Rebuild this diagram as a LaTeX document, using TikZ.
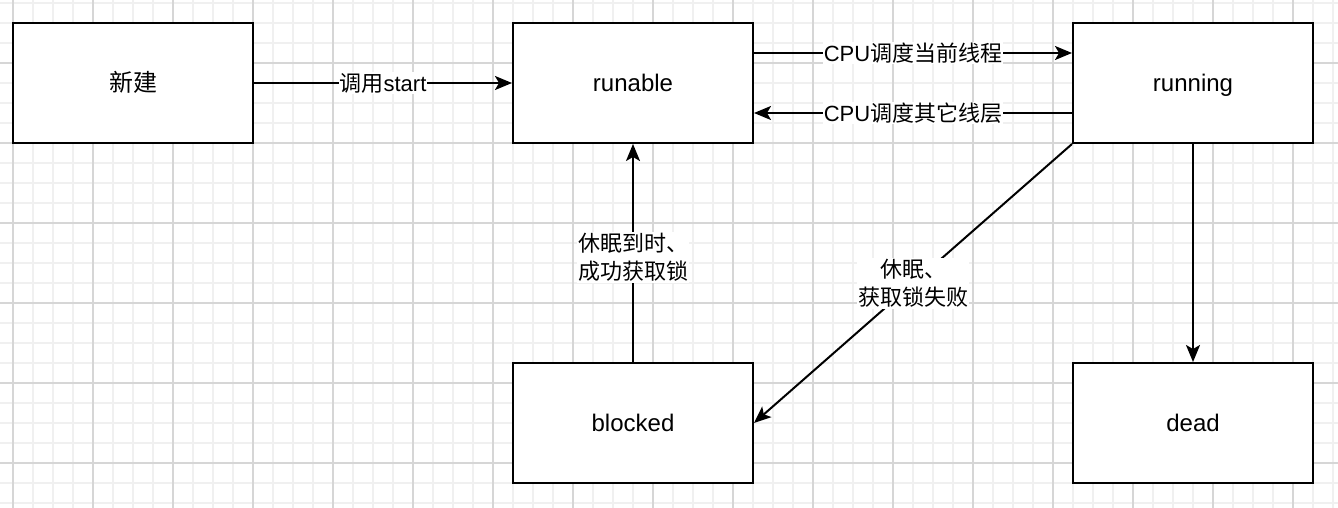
\documentclass[tikz,border=0pt]{standalone}
\usepackage{fontspec}
\setmainfont{Liberation Sans}
\newfontfamily\cjk{Noto Sans CJK SC}
\usetikzlibrary{arrows.meta}
\tikzset{
  state/.style={draw=black, line width=2pt, fill=white, minimum width=240pt, minimum height=120pt, inner sep=0pt, text height=18pt, text depth=1pt, font=\fontsize{24}{28}\selectfont},
  conn/.style={line width=2pt, -{Stealth[length=17pt, width=14pt, inset=4pt]}},
  lbl/.style={fill=white, inner sep=1pt, font=\fontsize{22}{28}\selectfont, align=center},
  minorgrid/.style={draw={rgb,255:red,240;green,240;blue,240}, line width=1.5pt},
  majorgrid/.style={draw={rgb,255:red,214;green,214;blue,214}, line width=1.3pt}
}
\begin{document}
\begin{tikzpicture}[x=1pt,y=-1pt]
\useasboundingbox (0,0) rectangle (1338,508);
\fill[white] (0,0) rectangle (1338,508);
% grid
\foreach \x in {13,33,...,1333} \draw[minorgrid] (\x,0) -- (\x,508);
\foreach \y in {3,23,...,503} \draw[minorgrid] (0,\y) -- (1338,\y);
\foreach \x in {13,93,...,1333} \draw[majorgrid] (\x,0) -- (\x,508);
\foreach \y in {63,143,...,503} \draw[majorgrid] (0,\y) -- (1338,\y);
% states
\node[state] (new) at (133,83) {\cjk 新建};
\node[state] (runable) at (633,83) {runable};
\node[state] (running) at (1193,83) {running};
\node[state] (blocked) at (633,423) {blocked};
\node[state] (dead) at (1193,423) {dead};
% connectors
\draw[conn] (new.east) -- node[lbl] {{\cjk 调用}start} (runable.west);
\draw[conn] ([yshift=30pt]runable.east) -- node[lbl] {CPU{\cjk 调度当前线程}} ([yshift=30pt]running.west);
\draw[conn] ([yshift=-30pt]running.west) -- node[lbl] {CPU{\cjk 调度其它线层}} ([yshift=-30pt]runable.east);
\draw[conn] (blocked.north) -- node[lbl, pos=0.48] {\cjk 休眠到时、\\\cjk 成功获取锁} (runable.south);
\draw[conn] (running.south west) -- node[lbl] {\cjk 休眠、\\\cjk 获取锁失败} (blocked.east);
\draw[conn] (running.south) -- (dead.north);
\end{tikzpicture}
\end{document}
